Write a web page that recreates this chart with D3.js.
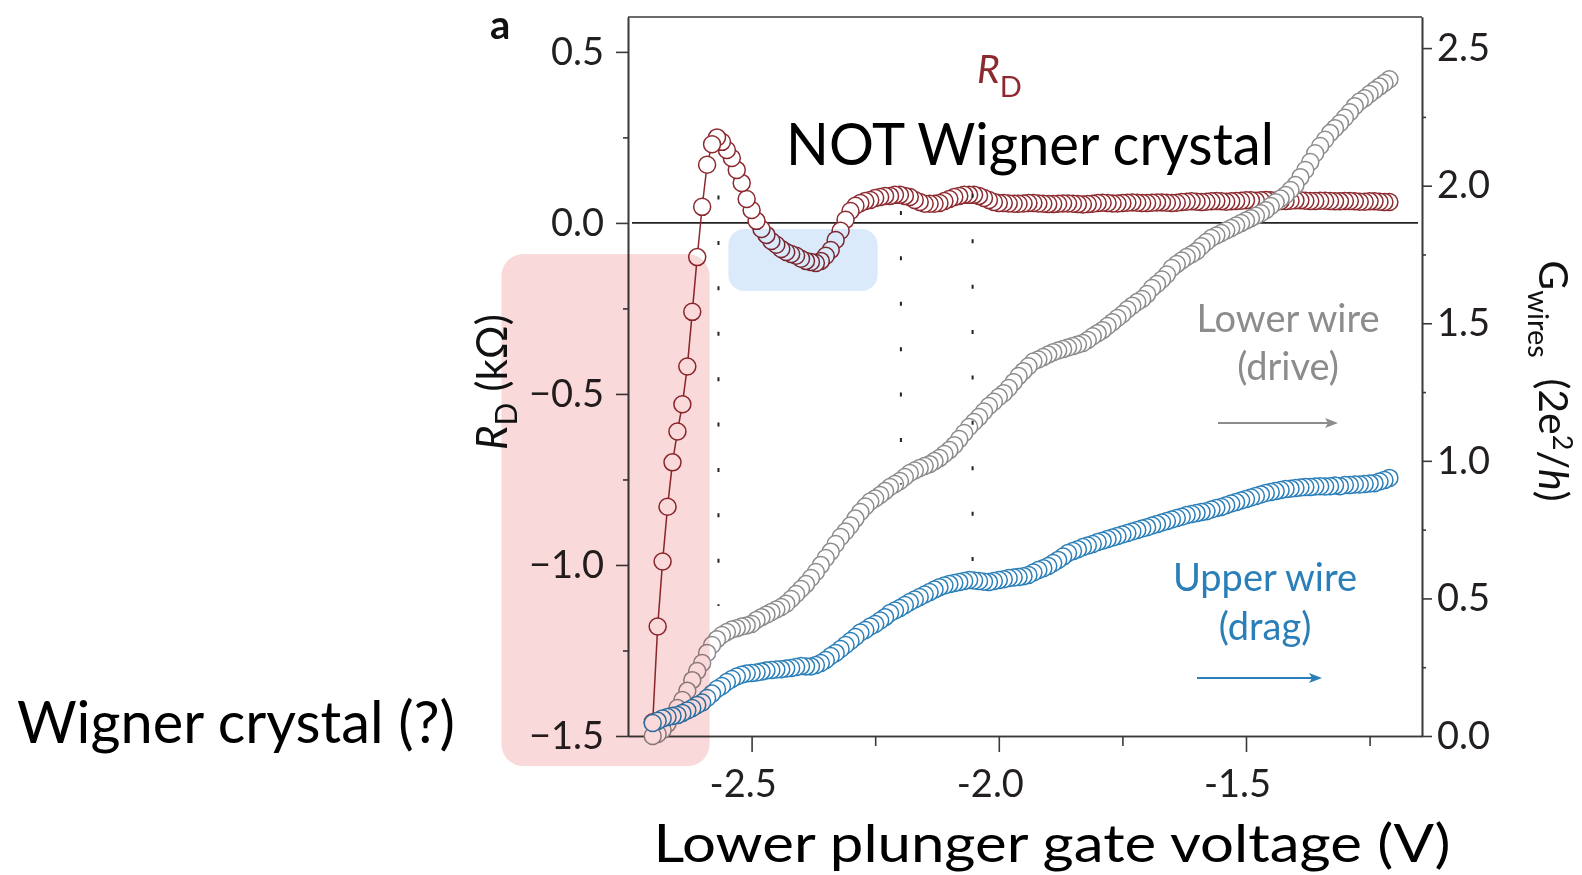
<!DOCTYPE html>
<meta charset="utf-8">
<style>
body { margin: 0; background: #fff; }
svg { display: block; font-family: Lato, "Open Sans", sans-serif; }
</style>
<body>
<svg id="chart" width="1582" height="875"></svg>
<script src="https://d3js.org/d3.v7.min.js"></script>
<script>
// gate voltage sweep (V): one sample every 10 mV
var vStart = -2.70, vStep = 0.01;

// drag resistance R_D (kOhm), left axis
var rD = [
  -1.46, -1.18, -0.99, -0.83, -0.70, -0.61, -0.53, -0.42, -0.26, -0.10,
  0.047, 0.17, 0.23, 0.25, 0.237, 0.213, 0.19, 0.155, 0.117, 0.07,
  0.038, 0.006, -0.018, -0.035, -0.053, -0.064, -0.076, -0.085, -0.091, -0.096,
  -0.105, -0.111, -0.114, -0.117, -0.111, -0.096, -0.079, -0.05, -0.023, 0.009,
  0.035, 0.05, 0.058, 0.064, 0.067, 0.073, 0.076, 0.079, 0.079, 0.082,
  0.082, 0.079, 0.076, 0.067, 0.061, 0.056, 0.056, 0.056, 0.058, 0.064,
  0.07, 0.076, 0.079, 0.082, 0.082, 0.082, 0.079, 0.073, 0.067, 0.061,
  0.058, 0.058, 0.057, 0.056, 0.056, 0.057, 0.058, 0.058, 0.057, 0.056,
  0.055, 0.055, 0.056, 0.057, 0.057, 0.056, 0.055, 0.054, 0.055, 0.056,
  0.058, 0.059, 0.058, 0.057, 0.057, 0.058, 0.059, 0.060, 0.059, 0.058,
  0.058, 0.059, 0.060, 0.060, 0.059, 0.058, 0.059, 0.061, 0.062, 0.063,
  0.062, 0.061, 0.062, 0.063, 0.064, 0.063, 0.062, 0.063, 0.064, 0.065,
  0.066, 0.066, 0.065, 0.066, 0.067, 0.066, 0.065, 0.064, 0.064, 0.065,
  0.066, 0.066, 0.065, 0.064, 0.064, 0.065, 0.065, 0.064, 0.063, 0.063,
  0.064, 0.064, 0.063, 0.062, 0.062, 0.063, 0.063, 0.062, 0.061, 0.061
];

// conductance of the lower wire (drive), right axis, 2e^2/h
var gLower = [
  0.00, 0.007, 0.022, 0.045, 0.074, 0.102, 0.131, 0.164, 0.203, 0.236,
  0.265, 0.302, 0.331, 0.352, 0.367, 0.378, 0.387, 0.392, 0.398, 0.402,
  0.407, 0.422, 0.432, 0.441, 0.451, 0.460, 0.469, 0.481, 0.498, 0.516,
  0.534, 0.552, 0.574, 0.596, 0.621, 0.647, 0.670, 0.698, 0.723, 0.743,
  0.765, 0.790, 0.814, 0.834, 0.852, 0.863, 0.876, 0.890, 0.905, 0.916,
  0.927, 0.941, 0.956, 0.965, 0.974, 0.981, 0.988, 0.999, 1.010, 1.025,
  1.039, 1.057, 1.079, 1.101, 1.123, 1.141, 1.159, 1.179, 1.199, 1.215,
  1.232, 1.246, 1.265, 1.286, 1.308, 1.326, 1.344, 1.361, 1.368, 1.377,
  1.386, 1.395, 1.401, 1.406, 1.412, 1.417, 1.423, 1.428, 1.439, 1.453,
  1.464, 1.475, 1.490, 1.504, 1.519, 1.533, 1.550, 1.564, 1.577, 1.588,
  1.606, 1.628, 1.643, 1.659, 1.677, 1.701, 1.715, 1.728, 1.741, 1.751,
  1.762, 1.780, 1.795, 1.810, 1.819, 1.828, 1.837, 1.846, 1.855, 1.864,
  1.873, 1.882, 1.891, 1.900, 1.911, 1.926, 1.940, 1.953, 1.966, 1.984,
  2.002, 2.031, 2.057, 2.086, 2.118, 2.144, 2.167, 2.191, 2.209, 2.227,
  2.247, 2.267, 2.289, 2.306, 2.318, 2.333, 2.347, 2.360, 2.373, 2.387
];

// conductance of the upper wire (drag), right axis, 2e^2/h
var gUpper = [
  0.047, 0.055, 0.064, 0.069, 0.073, 0.076, 0.084, 0.093, 0.102, 0.113,
  0.122, 0.138, 0.154, 0.171, 0.182, 0.196, 0.207, 0.216, 0.223, 0.227,
  0.229, 0.231, 0.234, 0.238, 0.240, 0.242, 0.243, 0.245, 0.247, 0.251,
  0.254, 0.253, 0.253, 0.258, 0.265, 0.276, 0.291, 0.302, 0.316, 0.331,
  0.345, 0.360, 0.376, 0.385, 0.398, 0.407, 0.420, 0.432, 0.447, 0.456,
  0.465, 0.476, 0.487, 0.496, 0.505, 0.514, 0.523, 0.532, 0.541, 0.547,
  0.552, 0.556, 0.560, 0.563, 0.567, 0.565, 0.563, 0.561, 0.560, 0.563,
  0.567, 0.570, 0.574, 0.576, 0.578, 0.581, 0.585, 0.594, 0.603, 0.610,
  0.618, 0.629, 0.640, 0.652, 0.665, 0.672, 0.679, 0.687, 0.692, 0.698,
  0.705, 0.710, 0.716, 0.721, 0.727, 0.732, 0.738, 0.743, 0.749, 0.754,
  0.759, 0.765, 0.770, 0.776, 0.781, 0.787, 0.792, 0.797, 0.803, 0.807,
  0.810, 0.814, 0.817, 0.823, 0.829, 0.832, 0.839, 0.845, 0.850, 0.856,
  0.861, 0.867, 0.872, 0.878, 0.883, 0.887, 0.890, 0.894, 0.898, 0.899,
  0.901, 0.903, 0.905, 0.905, 0.907, 0.908, 0.907, 0.908, 0.910, 0.908,
  0.912, 0.912, 0.914, 0.914, 0.916, 0.918, 0.919, 0.925, 0.930, 0.938
];

// ticks
var xMajor = [-2.5, -2.0, -1.5], xMinor = [-2.25, -1.75, -1.25];
var leftMajor = [0.5, 0.0, -0.5, -1.0, -1.5], leftMinor = [0.25, -0.25, -0.75, -1.25];
var rightMajor = [0, 0.5, 1.0, 1.5, 2.0, 2.5], rightMinor = [0.25, 0.75, 1.25, 1.75, 2.25];

// dotted guide lines (gate voltage, R_D top, R_D bottom)
var guideV = [-2.567, -2.198, -2.053];
var guideTop = [0.08, 0.035, 0.085];
var guideBottom = [-1.12, -0.765, -1.01];

// shaded regions [v0, v1, rD top, rD bottom]
var pinkRegion = [-3.006, -2.585, -0.091, -1.588];
var blueRegion = [-2.547, -2.245, -0.018, -0.199];

var red = "#8c2a2f", gray = "#8c8c8c", blue = "#2b7fb8", axisCol = "#3a3a3a";

var svg = d3.select("#chart"),
    W = +svg.attr("width"),
    H = +svg.attr("height");
var margin = {top: 17, right: 160, bottom: 139, left: 628};

var x = d3.scaleLinear().domain([-2.75, -1.144]).range([margin.left, W - margin.right]);
var yL = d3.scaleLinear().domain([-1.5, 0.602]).range([H - margin.bottom, margin.top]);
var yR = d3.scaleLinear().domain([0, 2.613]).range([H - margin.bottom, margin.top]);

var volts = rD.map(function(d, i) { return vStart + i * vStep; });

function styleAxis(g) {
  g.attr("font-size", 38).attr("font-family", "Lato, 'Open Sans', sans-serif");
  g.select(".domain").attr("stroke", axisCol).attr("stroke-width", 1.6);
  g.selectAll(".tick line").attr("stroke", axisCol).attr("stroke-width", 1.6);
  g.selectAll(".tick text").attr("fill", "#231f20");
}

// axes
var bottom = H - margin.bottom, right = W - margin.right;

svg.append("g").attr("transform", "translate(0," + bottom + ")")
  .call(d3.axisBottom(x).tickValues(xMinor).tickSize(10).tickSizeOuter(0).tickFormat(""))
  .call(styleAxis);
var xAx = svg.append("g").attr("transform", "translate(0," + bottom + ")")
  .call(d3.axisBottom(x).tickValues(xMajor).tickSize(16).tickSizeOuter(0)
    .tickFormat(function(d) { return d.toFixed(1); }))
  .call(styleAxis);
xAx.selectAll(".tick text").attr("y", 61).attr("dy", 0).attr("dx", -9);

svg.append("g").attr("transform", "translate(" + margin.left + ",0)")
  .call(d3.axisLeft(yL).tickValues(leftMinor).tickSize(5).tickSizeOuter(0).tickFormat(""))
  .call(styleAxis);
svg.append("g").attr("transform", "translate(" + margin.left + ",0)")
  .call(d3.axisLeft(yL).tickValues(leftMajor).tickSize(12).tickPadding(12).tickSizeOuter(0)
    .tickFormat(d3.format(".1f")))
  .call(styleAxis);

svg.append("g").attr("transform", "translate(" + right + ",0)")
  .call(d3.axisRight(yR).tickValues(rightMinor).tickSize(4).tickSizeOuter(0).tickFormat(""))
  .call(styleAxis);
svg.append("g").attr("transform", "translate(" + right + ",0)")
  .call(d3.axisRight(yR).tickValues(rightMajor).tickSize(10).tickPadding(5).tickSizeOuter(0)
    .tickFormat(d3.format(".1f")))
  .call(styleAxis);

// top frame line
svg.append("line")
  .attr("x1", margin.left).attr("x2", right)
  .attr("y1", margin.top).attr("y2", margin.top)
  .attr("stroke", axisCol).attr("stroke-width", 1.6);

// zero line of R_D
svg.append("line")
  .attr("x1", margin.left + 4).attr("x2", right - 4)
  .attr("y1", yL(0)).attr("y2", yL(0))
  .attr("stroke", "#222").attr("stroke-width", 1.6);

// series
function series(vals) {
  return vals.map(function(d, i) { return {v: volts[i], y: d}; });
}

svg.append("path")
  .datum(series(rD))
  .attr("fill", "none").attr("stroke", red).attr("stroke-width", 1.5)
  .attr("d", d3.line().x(function(d) { return x(d.v); }).y(function(d) { return yL(d.y); }));

function drawCircles(vals, yScale, color) {
  svg.append("g").selectAll("circle")
    .data(series(vals).reverse())
    .join("circle")
      .attr("cx", function(d) { return x(d.v); })
      .attr("cy", function(d) { return yScale(d.y); })
      .attr("r", 8.5)
      .attr("fill", "#fff")
      .attr("stroke", color)
      .attr("stroke-width", 1.5);
}
drawCircles(rD, yL, red);
drawCircles(gLower, yR, gray);
drawCircles(gUpper, yR, blue);

// dotted guides
svg.append("g").selectAll("line")
  .data(guideV)
  .join("line")
    .attr("x1", function(d) { return x(d); })
    .attr("x2", function(d) { return x(d); })
    .attr("y1", function(d, i) { return yL(guideTop[i]); })
    .attr("y2", function(d, i) { return yL(guideBottom[i]); })
    .attr("stroke", "#222").attr("stroke-width", 2)
    .attr("stroke-dasharray", "4 41.4");

// shaded regions
function region(r, fill, rad) {
  svg.append("rect")
    .attr("x", x(r[0])).attr("y", yL(r[2]))
    .attr("width", x(r[1]) - x(r[0]))
    .attr("height", yL(r[3]) - yL(r[2]))
    .attr("rx", rad)
    .attr("fill", fill)
    .style("mix-blend-mode", "multiply");
}
region(pinkRegion, "#f9d9da", 22);
region(blueRegion, "#dbeafb", 16);

// texts
function txt(xp, yp, s, size, color) {
  return svg.append("text").attr("x", xp).attr("y", yp)
    .attr("font-size", size).attr("fill", color || "#000").text(s);
}

txt(490, 39, "a", 40, "#111").attr("font-weight", "bold");

var rdLab = svg.append("text").attr("x", 977).attr("y", 83).attr("fill", red).attr("font-size", 39);
rdLab.append("tspan").attr("font-style", "italic").text("R");
rdLab.append("tspan").attr("font-size", 29).attr("dy", 14).text("D");

txt(786, 165, "NOT Wigner crystal", 58).attr("textLength", 488).attr("lengthAdjust", "spacingAndGlyphs");
txt(17, 743, "Wigner crystal (?)", 58).attr("textLength", 438).attr("lengthAdjust", "spacingAndGlyphs");
txt(1052, 862, "Lower plunger gate voltage (V)", 53)
  .attr("text-anchor", "middle").attr("textLength", 797).attr("lengthAdjust", "spacingAndGlyphs");

txt(1288, 332, "Lower wire", 38, gray).attr("text-anchor", "middle");
txt(1288, 380, "(drive)", 38, gray).attr("text-anchor", "middle");
txt(1265, 591, "Upper wire", 38, blue).attr("text-anchor", "middle");
txt(1265, 640, "(drag)", 38, blue).attr("text-anchor", "middle");

function arrow(x1, x2, yp, color) {
  svg.append("line").attr("x1", x1).attr("x2", x2 - 6).attr("y1", yp).attr("y2", yp)
    .attr("stroke", color).attr("stroke-width", 1.8);
  svg.append("path")
    .attr("d", "M" + x2 + "," + yp + "L" + (x2 - 13) + "," + (yp - 5) + "L" + (x2 - 10) + "," + yp +
      "L" + (x2 - 13) + "," + (yp + 5) + "Z")
    .attr("fill", color);
}
arrow(1218, 1338, 423, gray);
arrow(1197, 1322, 678, blue);

// axis titles
var lt = svg.append("text").attr("transform", "translate(507,382) rotate(-90)")
  .attr("text-anchor", "middle").attr("font-size", 42).attr("fill", "#111");
lt.append("tspan").attr("font-style", "italic").text("R");
lt.append("tspan").attr("font-size", 30).attr("dy", 10).text("D");
lt.append("tspan").attr("dy", -10).text(" (kΩ)");

var rt = svg.append("text").attr("transform", "translate(1539,381) rotate(90)")
  .attr("text-anchor", "middle").attr("font-size", 41).attr("fill", "#111");
rt.append("tspan").text("G");
rt.append("tspan").attr("font-size", 29).attr("dy", 11).text("wires");
rt.append("tspan").attr("dy", -11).text("\u2002(2e");
rt.append("tspan").attr("font-size", 27).attr("dy", -14).text("2");
rt.append("tspan").attr("dy", 14).text("/");
rt.append("tspan").attr("font-style", "italic").text("h");
rt.append("tspan").text(")");
</script>
</body>
